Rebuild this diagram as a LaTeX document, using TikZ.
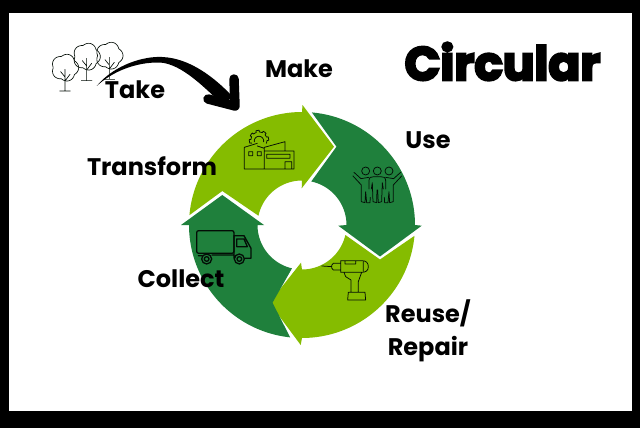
\documentclass[tikz,border=0pt]{standalone}
\usepackage{fontspec}
\setmainfont{Poppins}[UprightFont=*-Bold]
\newfontfamily\chunky{Poppins}[UprightFont=*-Bold,FakeBold=5]
\definecolor{ringlight}{HTML}{85BC00}
\definecolor{ringdark}{HTML}{1F803C}
\tikzset{
  lbl/.style={font=\fontsize{24}{33}\selectfont,text=black,inner sep=0pt,align=center},
  icon/.style={draw=black!90!ringdark,line width=0.75pt,line join=round,line cap=round},
  iconthick/.style={icon,line width=1.3pt},
  zoomA/.style={shift={(170,90)},x=0.3333pt,y=-0.3333pt},
  zoomB/.style={shift={(30,20)},x=0.3333pt,y=-0.3333pt}
}
\begin{document}
\begin{tikzpicture}[x=1pt,y=-1pt]
\useasboundingbox (0,0) rectangle (640,428);
\fill[black] (0,0) rectangle (640,428);
\fill[white] (9,13) rectangle (631.5,411);
% ring
\fill[ringlight] plot[domain=175:90,samples=50] ({302+113*cos(\x)},{225-113*sin(\x)}) -- (302.5,105) -- (334,146.7) -- (301.7,188.3) -- plot[domain=90:168,samples=40] ({302+44.5*cos(\x)},{225-44.5*sin(\x)}) -- (222.3,191) -- cycle;
\fill[ringdark] plot[domain=85:0,samples=50] ({302+113*cos(\x)},{225-113*sin(\x)}) -- (421.7,225.7) -- (380,256.5) -- (338.3,225.7) -- plot[domain=0:78,samples=40] ({302+44.5*cos(\x)},{225-44.5*sin(\x)}) -- (336.5,146.7) -- cycle;
\fill[ringlight] plot[domain=-5.5:-90,samples=50] ({302+113*cos(\x)},{225-113*sin(\x)}) -- (300.7,345) -- (269.3,302.7) -- (301,262.7) -- plot[domain=-90:-13,samples=40] ({302+44.5*cos(\x)},{225-44.5*sin(\x)}) -- (380,259.5) -- cycle;
\fill[ringdark] plot[domain=264:180,samples=50] ({302+113*cos(\x)},{225-113*sin(\x)}) -- (181,225) -- (222.3,195) -- (264,225) -- plot[domain=180:257,samples=40] ({302+44.5*cos(\x)},{225-44.5*sin(\x)}) -- (272.5,302.7) -- cycle;
% factory
\begin{scope}[zoomA]
\draw[icon] (223,237) -- (223,172) -- (262,160) (283,172) -- (345,155) -- (345,183)
  (283,183) -- (372,183) -- (372,237) -- (223,237) (283,172) -- (283,237)
  (262,168) -- (283,175)
  (290,193) rectangle (360,205) (345,215) -- (365,215) -- (365,237) (345,215) -- (345,237)
  (236,185) rectangle (248,197) (262,185) rectangle (274,197);
\draw[icon] plot[domain=-25:205,samples=120] ({267+(24+5*(sin(8*\x+20)>0))*cos(\x)},{150-(24+5*(sin(8*\x+20)>0))*sin(\x)});
\draw[icon] plot[domain=-10:190,samples=30,smooth] ({267+14*cos(\x)},{153-14*sin(\x)});
% people
\draw[icon] (587,243) circle[radius=12] (622,243) circle[radius=12] (657,243) circle[radius=12];
\draw[icon] (597,297) -- (597,272) .. controls (597,262) and (603,260) .. (612,260) -- (632,260) .. controls (641,260) and (647,262) .. (647,272) -- (647,297)
  (604,297) -- (607,278) -- (609,335) -- (620,338) -- (621,300) -- (623,300) -- (625,338) -- (635,335) -- (637,278) -- (640,297);
\draw[icon] (552,247) -- (573,266) -- (597,262) (549,258) -- (574,285) -- (574,335) -- (585,338) -- (587,305) -- (590,338) -- (600,338) -- (601,322);
\draw[icon] (692,247) -- (671,266) -- (647,262) (695,258) -- (670,285) -- (670,335) -- (659,338) -- (657,305) -- (654,338) -- (644,338) -- (643,322);
% drill
\draw[icon] (455,528) -- (485,530) (512,520) -- (490,520) -- (485,526) -- (485,534) -- (490,540) -- (512,540)
  (512,512) -- (575,512) .. controls (590,512) and (595,520) .. (595,530) .. controls (595,542) and (588,547) .. (575,547) -- (512,547) -- cycle
  (525,512) -- (525,522) -- (557,522) -- (557,512) (580,516) -- (580,543)
  (522,547) -- (527,560) -- (543,570) -- (543,607) (575,547) -- (565,575) -- (565,607)
  (535,607) -- (585,607) -- (587,630) -- (533,630) -- cycle;
% truck
\draw[iconthick,rounded corners=2pt] (80,422) rectangle (192,490);
\draw[iconthick] (192,437) -- (222,437) -- (243,475) -- (243,505) -- (226,505)
  (200,447) -- (222,447) -- (232,470) -- (200,470) -- cycle
  (85,497) -- (96,497) (126,495) -- (192,495) (192,437) -- (192,505)
  (110,507) circle[radius=15] (110,507) circle[radius=7] (208,507) circle[radius=15] (208,507) circle[radius=7];
\end{scope}
% trees
\begin{scope}[zoomB]
\foreach \cx/\cy/\by in {105/143/213,170/110/182,238/107/178}{
  \draw[icon,line width=0.65pt] plot[domain=0:360,samples=90,smooth cycle] ({\cx+(35+6*abs(cos(2.5*\x)))*cos(\x)},{\cy+(35+6*abs(cos(2.5*\x)))*sin(\x)});
  \draw[icon,line width=0.65pt] (\cx,\cy+5) -- (\cx,\by) (\cx-16,\by) -- (\cx+16,\by)
    (\cx,\cy+28) -- (\cx-13,\cy+12) (\cx,\cy+40) -- (\cx+15,\cy+20);
}
\end{scope}
% big arrow
\fill[black] (96.7,86) .. controls (115,64) and (145,56) .. (162,57)
  .. controls (190,58) and (215,78) .. (232,96) -- (224,106)
  .. controls (205,88) and (182,64) .. (160,62.5) .. controls (135,62) and (112,72) .. (96.7,86) -- cycle;
\draw[black,line width=9.5pt,line cap=round,line join=round] (234,79) -- (235,106) -- (208,99);
% labels
\node[lbl] (make) at (299,69) {Make};
\node[lbl] (use) at (428,140) {Use};
\node[lbl] (take) at (135,90) {Take};
\node[lbl] (transform) at (152,166) {Transform};
\node[lbl] (collect) at (181,279) {Collect};
\node[lbl] (reuse) at (428,331) {Reuse/\\Repair};
\node[inner sep=0pt,font=\chunky\fontsize{47}{50}\selectfont] (circular) at (502.5,61.5) {Circular};
\end{tikzpicture}
\end{document}
